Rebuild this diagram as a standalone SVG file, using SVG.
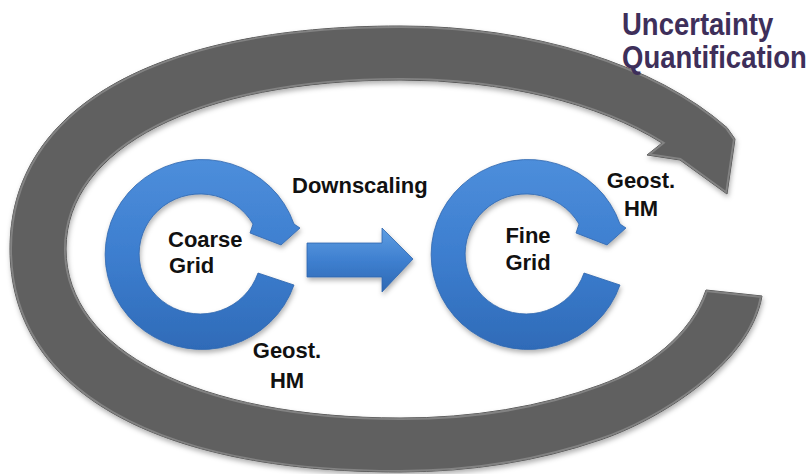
<svg xmlns="http://www.w3.org/2000/svg" xmlns:xlink="http://www.w3.org/1999/xlink" width="810" height="474" viewBox="0 0 810 474">
  <defs>
    <style>
      .lbl { font-family: "Liberation Sans", Arial, sans-serif; font-weight: bold; font-size: 22px; fill: #111111; }
      .uq { font-family: "Liberation Sans", Arial, sans-serif; font-weight: bold; font-size: 27.5px; fill: #3e2f5a; }
      .gray { fill: #606060; stroke: #505050; stroke-width: 1; filter: url(#shadow); }
      .blue { fill: url(#blueGrad); stroke: #2f66ad; stroke-width: 0.8; filter: url(#shadow); }
      .bevel { fill: none; stroke: #ffffff; stroke-opacity: 0.22; stroke-width: 4; }
    </style>
    <linearGradient id="blueGrad" x1="0" y1="0" x2="0" y2="1">
      <stop offset="0" stop-color="#4d8edb"/>
      <stop offset="0.5" stop-color="#3d7ecf"/>
      <stop offset="1" stop-color="#2f6bb8"/>
    </linearGradient>
    <linearGradient id="arrowGrad" x1="0" y1="0" x2="0" y2="1">
      <stop offset="0" stop-color="#5f9ee2"/>
      <stop offset="0.5" stop-color="#3f80d0"/>
      <stop offset="1" stop-color="#2d68b3"/>
    </linearGradient>
    <filter id="shadow" x="-10%" y="-10%" width="120%" height="125%">
      <feDropShadow dx="1" dy="3" stdDeviation="2.5" flood-color="#000000" flood-opacity="0.3"/>
    </filter>
    <path id="cshape" d="M 93 29 A 97 95 0 1 1 93 -32 L 99 -28 L 80 -11 L 49 -23 L 52 -32 A 61 60 0 1 0 57 17 Z"/>
    <path id="ring" d="M 762 296 C 750 365 657 421 600 440 A 390 223 0 0 1 400 472 C 154 472 10 389.5 10 249 C 10 108.5 154 26 400 26 A 390 223 0 0 1 727 127.6 L 735 139 L 727 194 L 680 160 L 647 155 L 662 143 A 334 169 0 0 0 400 80 C 198 80 66 148 66 249 C 66 350 198 418 400 418 A 334 169 0 0 0 600 385 C 647 368 691 335 706 290 Z"/>
    <clipPath id="ringClip"><use xlink:href="#ring"/></clipPath>
    <clipPath id="cClipL"><use xlink:href="#cshape" transform="translate(201,256)"/></clipPath>
    <clipPath id="cClipR"><use xlink:href="#cshape" transform="translate(527,256)"/></clipPath>
  </defs>

  <rect x="0" y="0" width="810" height="474" fill="#ffffff"/>

  <g id="connectors">
    <g id="uq-loop">
      <use xlink:href="#ring" class="gray"/>
      <use xlink:href="#ring" class="bevel" clip-path="url(#ringClip)"/>
      <text class="uq" transform="translate(622,35) scale(1,1.12)">Uncertainty</text>
      <text class="uq" transform="translate(622,68) scale(1,1.12)">Quantification</text>
    </g>
    <g id="downscaling">
      <path d="M 307 243 L 382 243 L 382 228 L 413 259 L 382 292 L 382 277 L 307 277 Z" fill="url(#arrowGrad)" stroke="#2f66ad" stroke-width="0.8" filter="url(#shadow)"/>
      <text class="lbl" x="292" y="193">Downscaling</text>
    </g>
  </g>

  <g id="coarse-grid">
    <use xlink:href="#cshape" class="blue" transform="translate(201,256)"/>
    <use xlink:href="#cshape" class="bevel" transform="translate(201,256)" clip-path="url(#cClipL)"/>
    <text class="lbl" x="168" y="247">Coarse</text>
    <text class="lbl" x="169" y="273">Grid</text>
    <text class="lbl" x="287" y="358" text-anchor="middle">Geost.</text>
    <text class="lbl" x="287" y="388" text-anchor="middle">HM</text>
  </g>

  <g id="fine-grid">
    <use xlink:href="#cshape" class="blue" transform="translate(527,256)"/>
    <use xlink:href="#cshape" class="bevel" transform="translate(527,256)" clip-path="url(#cClipR)"/>
    <text class="lbl" x="528" y="243" text-anchor="middle">Fine</text>
    <text class="lbl" x="528" y="270" text-anchor="middle">Grid</text>
    <text class="lbl" x="641" y="188" text-anchor="middle">Geost.</text>
    <text class="lbl" x="641" y="216" text-anchor="middle">HM</text>
  </g>
</svg>
